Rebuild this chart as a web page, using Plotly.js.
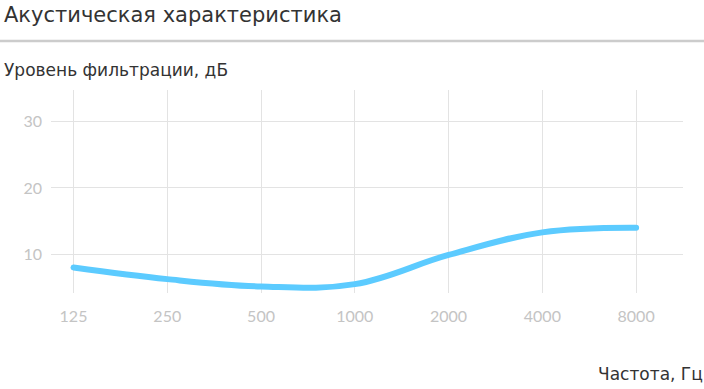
<!DOCTYPE html>
<html>
<head>
<meta charset="utf-8">
<script src="https://cdn.plot.ly/plotly-3.0.1.min.js"></script>
<style>
html,body{margin:0;padding:0;background:#fff;}
#chart{width:704px;height:389px;}
path.js-line{stroke-linecap:round !important;}
</style>
</head>
<body>
<div id="chart"></div>
<script>
const frequencies = ["125", "250", "500", "1000", "2000", "4000", "8000"];
const filtrationDb = [8.0, 6.25, 5.15, 5.5, 9.9, 13.3, 14.0];
const yTicks = [10, 20, 30];

const chartTitle = "Акустическая характеристика";
const yTitle = "Уровень фильтрации, дБ";
const xTitle = "Частота, Гц";

const textFont = "'DejaVu Sans', sans-serif";
const tickFontFamily = "Lato, 'Open Sans', sans-serif";

const trace = {
  x: frequencies,
  y: filtrationDb,
  type: "scatter",
  mode: "lines",
  line: {color: "#5ccbff", width: 6, shape: "spline", smoothing: 1.1},
  hoverinfo: "skip"
};

const layout = {
  width: 704,
  height: 389,
  margin: {l: 51, r: 21, t: 90, b: 96},
  paper_bgcolor: "#ffffff",
  plot_bgcolor: "#ffffff",
  showlegend: false,
  font: {family: tickFontFamily, color: "#c4c4c4", size: 16},
  xaxis: {
    type: "category",
    range: [-0.24, 6.5],
    showgrid: true,
    gridcolor: "#e3e3e3",
    gridwidth: 1,
    zeroline: false,
    showline: false,
    ticks: "",
    tickfont: {family: tickFontFamily, size: 16, color: "#c4c4c4"},
    ticklabelstandoff: 12
  },
  yaxis: {
    range: [4.16, 34.78],
    tickvals: yTicks,
    ticktext: yTicks.map(String),
    showgrid: true,
    gridcolor: "#e3e3e3",
    gridwidth: 1,
    zeroline: false,
    showline: false,
    ticks: "",
    tickfont: {family: tickFontFamily, size: 16, color: "#c4c4c4"},
    ticklabelstandoff: 8
  },
  shapes: [{
    type: "line", xref: "paper", yref: "paper",
    x0: -51/632, x1: (704-51)/632,
    y0: 1 + (90-41)/203, y1: 1 + (90-41)/203,
    line: {color: "#cccccc", width: 2.5}
  }],
  annotations: [
    {text: chartTitle, xref: "paper", yref: "paper", x: -49/632, y: 1 + (90-15)/203,
     xanchor: "left", yanchor: "middle", showarrow: false,
     font: {family: textFont, size: 21, color: "#333333"}},
    {text: yTitle, xref: "paper", yref: "paper", x: -49/632, y: 1 + (90-70)/203,
     xanchor: "left", yanchor: "middle", showarrow: false,
     font: {family: textFont, size: 17, color: "#333333"}},
    {text: xTitle, xref: "paper", yref: "paper", x: (705-51)/632, y: -(374-293)/203,
     xanchor: "right", yanchor: "middle", showarrow: false,
     font: {family: textFont, size: 17, color: "#333333"}}
  ]
};

Plotly.newPlot("chart", [trace], layout, {displayModeBar: false, staticPlot: true});
</script>
</body>
</html>
